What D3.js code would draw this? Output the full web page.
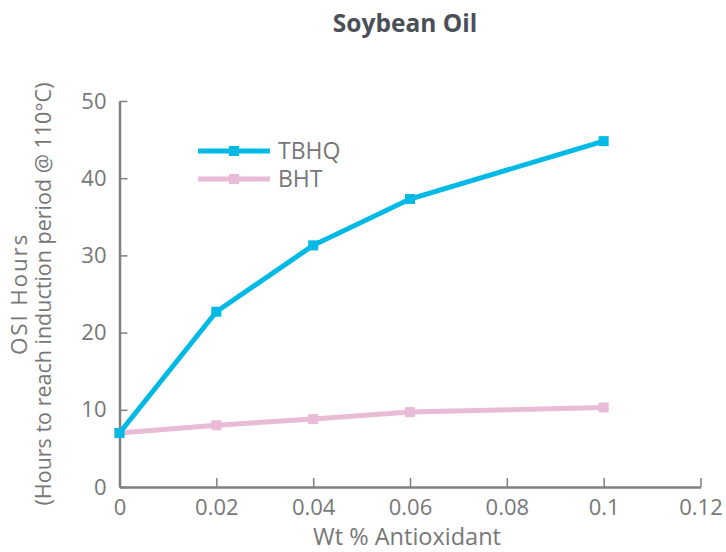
<!DOCTYPE html>
<html>
<head>
<meta charset="utf-8">
<script src="https://cdn.jsdelivr.net/npm/d3@7"></script>
<style>
  html, body { margin: 0; padding: 0; background: #fff; }
  svg { display: block; }
  text { font-family: "Open Sans", "Noto Sans", sans-serif; }
</style>
</head>
<body>
<svg id="chart" width="726" height="552"></svg>
<script>
const concentrations = [0, 0.02, 0.04, 0.06, 0.1];
const tbhqValues = [7.0, 22.7, 31.3, 37.3, 44.8];
const bhtValues = [7.0, 8.0, 8.8, 9.7, 10.3];
const seriesNames = ["TBHQ", "BHT"];
const xTicks = [0, 0.02, 0.04, 0.06, 0.08, 0.1, 0.12];
const yTicks = [0, 10, 20, 30, 40, 50];

const colors = { TBHQ: "#00b9e4", BHT: "#e9bbd7" };
const axisColor = "#7f7f7f";
const textColor = "#777777";

const svg = d3.select("#chart");
const x = d3.scaleLinear().domain([0, 0.12]).range([119.5, 700.5]);
const y = d3.scaleLinear().domain([0, 50]).range([487, 101]);

// Title
svg.append("text")
  .attr("x", 405).attr("y", 32)
  .attr("text-anchor", "middle")
  .attr("font-size", 24.5).attr("font-weight", 700)
  .attr("fill", "#4b4f57")
  .text("Soybean Oil");

// X axis
const xAxis = d3.axisBottom(x).tickValues(xTicks).tickSizeInner(-9).tickSizeOuter(0)
  .tickFormat(d => d3.format("")(+d.toFixed(2)));
const gx = svg.append("g").attr("transform", `translate(0,${y(0)})`).call(xAxis);
gx.select(".domain").attr("stroke", axisColor).attr("stroke-width", 2.5);
gx.selectAll(".tick line").attr("stroke", axisColor).attr("stroke-width", 1.5);
gx.selectAll(".tick text").attr("fill", textColor).attr("font-size", 22)
  .attr("font-family", '"Open Sans", sans-serif').attr("y", 12).attr("dy", "0.71em");

// Y axis
const yAxis = d3.axisLeft(y).tickValues(yTicks).tickSizeInner(-8).tickSizeOuter(0);
const gy = svg.append("g").attr("transform", `translate(${x(0)},0)`).call(yAxis);
gy.select(".domain").attr("stroke", axisColor).attr("stroke-width", 2.5);
gy.selectAll(".tick line").attr("stroke", axisColor).attr("stroke-width", 1.5);
gy.selectAll(".tick text").attr("fill", textColor).attr("font-size", 22)
  .attr("font-family", '"Open Sans", sans-serif').attr("x", -13);

// Axis titles
svg.append("text")
  .attr("x", 407).attr("y", 545)
  .attr("text-anchor", "middle")
  .attr("font-size", 23.5).attr("fill", textColor)
  .text("Wt % Antioxidant");

const yTitle = svg.append("text")
  .attr("transform", `translate(0,${(y(0) + y(50)) / 2}) rotate(-90)`)
  .attr("text-anchor", "middle")
  .attr("fill", textColor);
yTitle.append("tspan").attr("x", 0).attr("y", 27).attr("font-size", 22.5)
  .attr("letter-spacing", 1.8).text("OSI Hours");
yTitle.append("tspan").attr("x", 0).attr("y", 51).attr("font-size", 21.5)
  .text("(Hours to reach induction period @ 110°C)");

// Series
const series = [
  { name: seriesNames[0], values: tbhqValues },
  { name: seriesNames[1], values: bhtValues }
];
const line = d3.line().x(d => x(d[0])).y(d => y(d[1]));
const markerSize = 10;

// draw BHT first so TBHQ is on top
[series[1], series[0]].forEach(s => {
  const pts = concentrations.map((c, i) => [c, s.values[i]]);
  svg.append("path")
    .datum(pts)
    .attr("d", line)
    .attr("fill", "none")
    .attr("stroke", colors[s.name])
    .attr("stroke-width", 5);
  svg.selectAll(null).data(pts).enter().append("rect")
    .attr("x", d => x(d[0]) - markerSize / 2)
    .attr("y", d => y(d[1]) - markerSize / 2)
    .attr("width", markerSize).attr("height", markerSize)
    .attr("fill", colors[s.name]);
});

// Legend
const legend = svg.append("g");
series.forEach((s, i) => {
  const ly = 151 + i * 28;
  legend.append("line")
    .attr("x1", 198).attr("x2", 270).attr("y1", ly).attr("y2", ly)
    .attr("stroke", colors[s.name]).attr("stroke-width", 5);
  legend.append("rect")
    .attr("x", 234 - markerSize / 2).attr("y", ly - markerSize / 2)
    .attr("width", markerSize).attr("height", markerSize)
    .attr("fill", colors[s.name]);
  legend.append("text")
    .attr("x", 278).attr("y", ly + 7.5)
    .attr("font-size", 23).attr("fill", textColor)
    .text(s.name);
});
</script>
</body>
</html>
